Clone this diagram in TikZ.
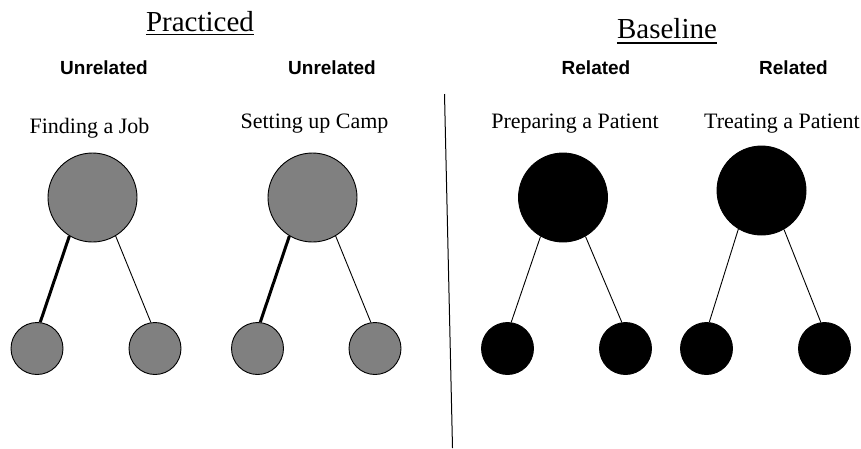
\documentclass[tikz,border=0pt]{standalone}
\usepackage{fontspec}
\setmainfont{Liberation Serif}
\newfontfamily\labfont{Liberation Sans}
\begin{document}
\begin{tikzpicture}[x=1pt,y=-1pt,
  title/.style={inner sep=0pt,anchor=base,font=\fontsize{29}{32}\selectfont},
  cond/.style={inner sep=0pt,anchor=base,font=\labfont\bfseries\fontsize{19}{22}\selectfont},
  task/.style={inner sep=0pt,anchor=base,font=\fontsize{22}{25}\selectfont},
  bignode/.style={circle,draw=black,line width=0.9pt,inner sep=0pt,minimum size=89pt},
  smallnode/.style={circle,draw=black,line width=0.9pt,inner sep=0pt,minimum size=52pt},
  grayfill/.style={fill=gray},
  blackfill/.style={fill=black},
  thin link/.style={line width=0.9pt},
  thick link/.style={line width=3pt},
  uline/.style={line width=1.7pt}]
\useasboundingbox (0,0) rectangle (861,448);
% titles
\node[title] (prac) at (200,31.5) {Practiced};
\node[title] (base) at (667,38.5) {Baseline};
\draw[uline] ([yshift=-3pt]prac.base west) -- ([yshift=-3pt]prac.base east);
\draw[uline] ([yshift=-4.5pt]base.base west) -- ([yshift=-4.5pt]base.base east);
% condition labels
\node[cond] (c1) at (104,74) {Unrelated};
\node[cond] (c2) at (332,74) {Unrelated};
\node[cond] (c3) at (596,74) {Related};
\node[cond] (c4) at (793.5,74) {Related};
% task labels
\node[task] (t1) at (89.5,133) {Finding a Job};
\node[task] (t2) at (314.5,128) {Setting up Camp};
\node[task] (t3) at (575,128) {Preparing a Patient};
\node[task] (t4) at (782,128) {Treating a Patient};
% divider
\coordinate (dtop) at (444.5,94);
\coordinate (dbot) at (452.5,448);
\draw[line width=1pt] (dtop) -- (dbot);
% tree 1
\node[bignode,grayfill] (b1) at (92.5,197.5) {};
\node[smallnode,grayfill] (s1a) at (37,348.5) {};
\node[smallnode,grayfill] (s1b) at (155,348.5) {};
\draw[thick link] (b1.239) -- (s1a.83);
\draw[thin link] (b1.301) -- (s1b.99);
% tree 2
\node[bignode,grayfill] (b2) at (312.5,197.5) {};
\node[smallnode,grayfill] (s2a) at (257.5,348.5) {};
\node[smallnode,grayfill] (s2b) at (375,348.5) {};
\draw[thick link] (b2.239) -- (s2a.84);
\draw[thin link] (b2.301) -- (s2b.99);
% tree 3
\node[bignode,blackfill] (b3) at (563,197.5) {};
\node[smallnode,blackfill] (s3a) at (507.5,348.5) {};
\node[smallnode,blackfill] (s3b) at (625.5,348.5) {};
\draw[thin link] (b3.240) -- (s3a.82);
\draw[thin link] (b3.300) -- (s3b.98);
% tree 4
\node[bignode,blackfill] (b4) at (761.5,190.5) {};
\node[smallnode,blackfill] (s4a) at (706.5,348.5) {};
\node[smallnode,blackfill] (s4b) at (824.5,348.5) {};
\draw[thin link] (b4.239) -- (s4a.84);
\draw[thin link] (b4.300) -- (s4b.98);
\end{tikzpicture}
\end{document}
